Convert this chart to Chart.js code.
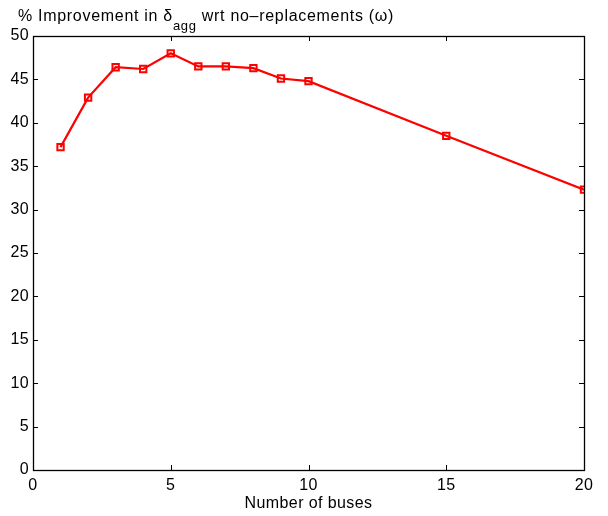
<!DOCTYPE html>
<html>
<head>
<meta charset="utf-8">
<script src="https://cdn.jsdelivr.net/npm/chart.js@4/dist/chart.umd.min.js"></script>
<style>
  html, body { margin: 0; padding: 0; background: #fff; }
  #wrap { width: 608px; height: 516px; position: relative; }
</style>
</head>
<body>
<div id="wrap"><canvas id="improvementChart" width="608" height="516"></canvas></div>
<script>
// number of buses vs % improvement
const buses = [1, 2, 3, 4, 5, 6, 7, 8, 9, 10, 15, 20];
const improvement = [37.2, 42.9, 46.4, 46.2, 48.0, 46.5, 46.5, 46.3, 45.1, 44.8, 38.5, 32.3];
const xTicks = [0, 5, 10, 15, 20];
const yTicks = [0, 5, 10, 15, 20, 25, 30, 35, 40, 45, 50];

const FONT = 'Helvetica, "Liberation Sans", Arial, sans-serif';
const SPACING = '0.4px';

// a little extra letter spacing for every text on the canvas
const spacing = {
    id: 'spacing',
    beforeDraw(chart) { chart.ctx.letterSpacing = SPACING; }
};

// box around the axes + inward ticks on all four sides
const axesBox = {
    id: 'axesBox',
    afterDatasetsDraw(chart) {
        const { ctx, chartArea: a, scales } = chart;
        const len = 5;
        ctx.save();
        ctx.strokeStyle = '#000';
        ctx.lineWidth = 1;
        ctx.beginPath();
        xTicks.forEach(v => {
            const px = Math.round(scales.x.getPixelForValue(v)) + 0.5;
            ctx.moveTo(px, a.bottom); ctx.lineTo(px, a.bottom - len);
            ctx.moveTo(px, a.top); ctx.lineTo(px, a.top + len);
        });
        yTicks.forEach(v => {
            const py = Math.round(scales.y.getPixelForValue(v)) + 0.5;
            ctx.moveTo(a.left, py); ctx.lineTo(a.left + len, py);
            ctx.moveTo(a.right, py); ctx.lineTo(a.right - len, py);
        });
        ctx.stroke();
        ctx.lineWidth = 1.3;
        ctx.strokeRect(Math.round(a.left) + 0.5, Math.round(a.top) + 0.5,
            Math.round(a.right - a.left), Math.round(a.bottom - a.top));
        ctx.restore();
    }
};

// title with subscript
const subTitle = {
    id: 'subTitle',
    afterDraw(chart) {
        const ctx = chart.ctx;
        ctx.save();
        ctx.letterSpacing = '0.7px';
        ctx.fillStyle = '#000';
        ctx.textBaseline = 'alphabetic';
        ctx.textAlign = 'left';
        let x = 18, y = 21;
        ctx.font = '16px ' + FONT;
        const p1 = '% Improvement in \u03B4';
        ctx.fillText(p1, x, y);
        x += ctx.measureText(p1).width;
        ctx.font = '13px ' + FONT;
        ctx.fillText('agg', x, y + 9);
        x += ctx.measureText('agg').width;
        ctx.font = '16px ' + FONT;
        ctx.fillText(' wrt no\u2013replacements (\u03C9)', x, y);
        ctx.restore();
    }
};

new Chart(document.getElementById('improvementChart'), {
    type: 'line',
    data: {
        datasets: [{
            data: buses.map((b, i) => ({ x: b, y: improvement[i] })),
            borderColor: '#ff0000',
            backgroundColor: 'rgba(0,0,0,0)',
            borderWidth: 2.2,
            pointStyle: 'rect',
            pointRadius: 4.5,
            pointBorderWidth: 2,
            pointBorderColor: '#ff0000',
            pointBackgroundColor: 'rgba(0,0,0,0)',
            tension: 0
        }]
    },
    options: {
        responsive: false,
        animation: false,
        layout: { padding: { top: 36, right: 24, left: 0, bottom: 0 } },
        plugins: { legend: { display: false }, tooltip: { enabled: false } },
        scales: {
            x: {
                type: 'linear', min: 0, max: 20,
                afterBuildTicks: s => { s.ticks = xTicks.map(v => ({ value: v })); },
                afterFit: s => { s.height = 46; },
                grid: { display: false, drawTicks: false },
                border: { display: false },
                ticks: { color: '#000', padding: 6, maxRotation: 0, font: { family: FONT, size: 16 } },
                title: { display: true, text: 'Number of buses', color: '#000', padding: { top: 0, bottom: 3 }, font: { family: FONT, size: 16 } }
            },
            y: {
                min: 0, max: 50,
                afterBuildTicks: s => { s.ticks = yTicks.map(v => ({ value: v })); },
                afterFit: s => { s.width = 33; },
                grid: { display: false, drawTicks: false },
                border: { display: false },
                ticks: { color: '#000', padding: 4, font: { family: FONT, size: 16 } }
            }
        }
    },
    plugins: [spacing, axesBox, subTitle]
});
</script>
</body>
</html>
